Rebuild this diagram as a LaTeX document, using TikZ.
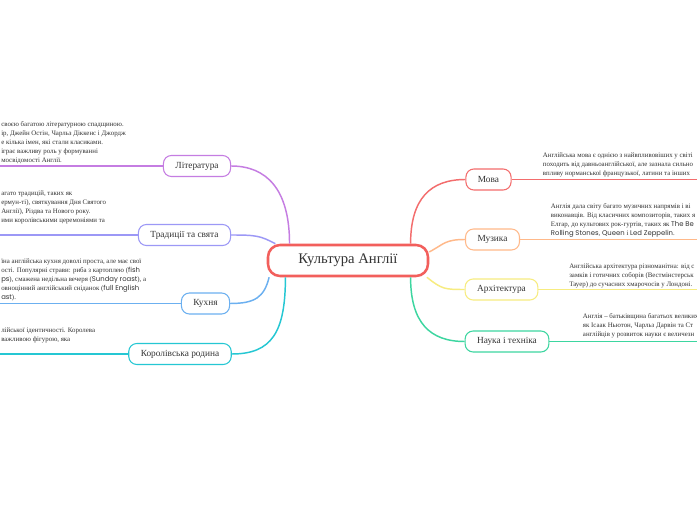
\documentclass[tikz,border=0pt]{standalone}
\usepackage{fontspec}
\setmainfont{Liberation Serif}
\newfontfamily\latinsans{Poppins}
\usetikzlibrary{positioning}

\definecolor{textgray}{HTML}{333333}
\definecolor{rootred}{HTML}{F25F5C}
\definecolor{movacol}{HTML}{F36D6D}
\definecolor{muzcol}{HTML}{FFB98A}
\definecolor{archcol}{HTML}{F7EC80}
\definecolor{naukacol}{HTML}{3DD6A0}
\definecolor{litcol}{HTML}{C57DE2}
\definecolor{tradcol}{HTML}{9C98F6}
\definecolor{kuhcol}{HTML}{6CB0F0}
\definecolor{korcol}{HTML}{25C7D3}

\newcommand\engl[1]{{\latinsans #1}}

\begin{document}
\begin{tikzpicture}[
    x=0.75pt, y=-0.75pt,
    root/.style={
      rectangle, rounded corners=9pt,
      draw=rootred, line width=1.9pt, fill=white,
      minimum width=120pt, minimum height=23.25pt,
      font=\fontsize{11}{13}\selectfont, text=textgray
    },
    branch/.style={
      rectangle, rounded corners=6pt,
      line width=0.8pt, fill=white,
      minimum height=15.75pt, inner xsep=9pt,
      font=\fontsize{7}{8}\selectfont, text=textgray
    },
    link/.style={line width=1.1pt},
    desc/.style={
      anchor=north west, align=left, inner sep=0pt,
      font=\fontsize{5.15}{6.7}\selectfont, text=textgray
    }
  ]

    \useasboundingbox (0,0) rectangle (697,520);
    \fill[white] (0,0) rectangle (697,520);
    \clip (0,0) rectangle (697,520);

    % Centre
    \node[root] (root) at (348,260.5) {Культура Англії};

    % Right branches
    \node[branch, draw=movacol]  (mova)  at (488.5,179.5) {Мова};
    \node[branch, draw=muzcol]   (muz)   at (492.5,239.5) {Музика};
    \node[branch, draw=archcol]  (arch)  at (501.5,289.5) {Архітектура};
    \node[branch, draw=naukacol] (nauka) at (507,341.5)   {Наука і техніка};

    % Left branches
    \node[branch, draw=litcol]  (lit)  at (197,166)   {Література};
    \node[branch, draw=tradcol] (trad) at (184.5,235) {Традиції та свята};
    \node[branch, draw=kuhcol]  (kuh)  at (205.5,303.5) {Кухня};
    \node[branch, draw=korcol]  (kor)  at (180,354)   {Королівська родина};

    % Links from the centre
    \draw[link, movacol]  (root.15)  .. controls +(0,-45) and +(-35,0) .. (mova.west);
    \draw[link, muzcol]   (root.6)   .. controls +(15,-8) and +(-20,0) .. (muz.west);
    \draw[link, archcol]  (root.-12) .. controls +(15,12) and +(-20,0) .. (arch.west);
    \draw[link, naukacol] (root.-15) .. controls +(0,45) and +(-35,0) .. (nauka.west);
    \draw[link, litcol]   (root.164) .. controls +(0,-55) and +(35,0) .. (lit.east);
    \draw[link, tradcol]  (root.167) .. controls +(-15,-8) and +(25,0) .. (trad.east);
    \draw[link, kuhcol]   (root.192) .. controls +(-5,20) and +(25,0) .. (kuh.east);
    \draw[link, korcol]   (root.195) .. controls +(0,55) and +(40,0) .. (kor.east);

    % Outer ends
    \coordinate (movaend)  at (700,179.5);
    \coordinate (muzend)   at (700,239.5);
    \coordinate (archend)  at (700,289.5);
    \coordinate (naukaend) at (700,341.5);
    \coordinate (litend)   at (-3,166);
    \coordinate (tradend)  at (-3,235);
    \coordinate (kuhend)   at (-3,303.5);
    \coordinate (korend)   at (-3,354);

    \draw[link, movacol]  (mova.east)  -- (movaend);
    \draw[link, muzcol]   (muz.east)   -- (muzend);
    \draw[link, archcol]  (arch.east)  -- (archend);
    \draw[link, naukacol] (nauka.east) -- (naukaend);
    \draw[link, litcol]   (lit.west)   -- (litend);
    \draw[link, tradcol]  (trad.west)  -- (tradend);
    \draw[link, kuhcol]   (kuh.west)   -- (kuhend);
    \draw[link, korcol]   (kor.west)   -- (korend);

    % Right texts
    \node[desc] (movatext) at (542.7,152.5) {%
      Англійська мова є однією з найвпливовіших у світі\\
      походить від давньоанглійської, але зазнала сильно\\
      впливу норманської французької, латини та інших};
    \node[desc] (muztext) at (550.7,203.5) {%
      Англія дала світу багато музичних напрямів і ві\\
      виконавців. Від класичних композиторів, таких я\\
      Елгар, до культових рок-гуртів, таких як \engl{The Be}\\
      \engl{Rolling Stones}, \engl{Queen} і \engl{Led Zeppelin}.};
    \node[desc] (archtext) at (569,263.5) {%
      Англійська архітектура різноманітна: від с\\
      замків і готичних соборів (Вестмінстерськ\\
      Тауер) до сучасних хмарочосів у Лондоні.};
    \node[desc] (naukatext) at (582.7,313.5) {%
      Англія – батьківщина багатьох великих\\
      як Ісаак Ньютон, Чарльз Дарвін та Ст\\
      англійців у розвиток науки є величезн};

    % Left texts
    \node[desc] (littext) at (1,121.5) {%
      своєю багатою літературною спадщиною.\\
      ір, Джейн Остін, Чарльз Діккенс і Джордж\\
      е кілька імен, які стали класиками.\\
      іграє важливу роль у формуванні\\
      мосвідомості Англії.};
    \node[desc] (tradtext) at (1,190.5) {%
      агато традицій, таких як\\
      ермун-ті), святкування Дня Святого\\
      Англії), Різдва та Нового року.\\
      ими королівськими церемоніями та};
    \node[desc] (kuhtext) at (1,258.5) {%
      їна англійська кухня доволі проста, але має свої\\
      ості. Популярні страви: риба з картоплею (\engl{fish}\\
      \engl{ps}), смажена недільна вечеря (\engl{Sunday roast}), а\\
      овноцінний англійський сніданок (\engl{full English}\\
      \engl{ast}).};
    \node[desc] (kortext) at (1,327.5) {%
      лійської ідентичності. Королева\\
      важливою фігурою, яка};

  \end{tikzpicture}
\end{document}
